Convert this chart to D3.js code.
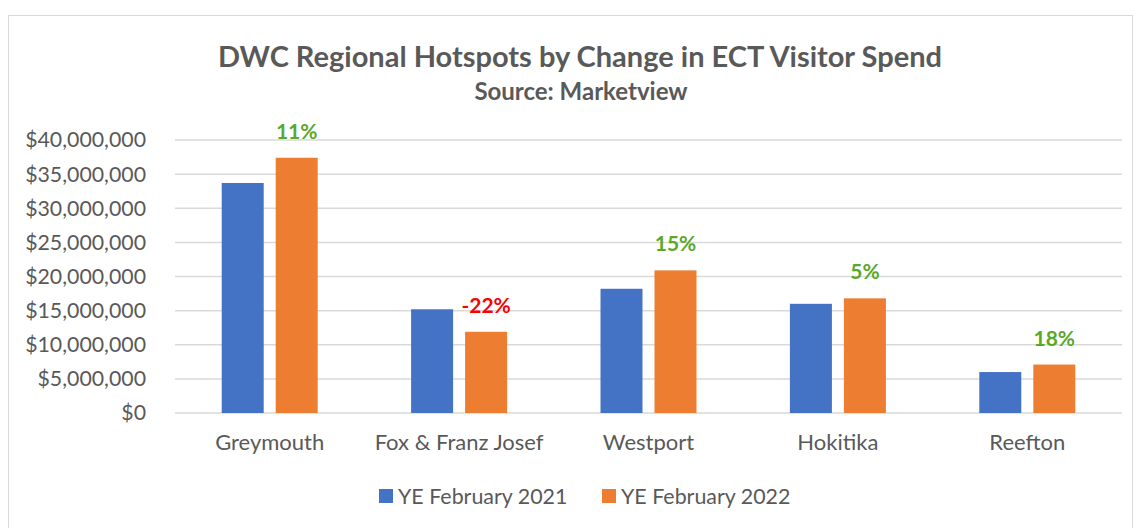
<!DOCTYPE html>
<html>
<head>
<meta charset="utf-8">
<script src="https://cdn.jsdelivr.net/npm/d3@7"></script>
<style>
  body { margin: 0; background: #fff; }
  svg text { font-family: Lato, "Open Sans", sans-serif; }
</style>
</head>
<body>
<svg id="chart"></svg>
<script>
// data
const regions = ["Greymouth", "Fox & Franz Josef", "Westport", "Hokitika", "Reefton"];
const spend2021 = [33700000, 15200000, 18200000, 16000000, 6000000];
const spend2022 = [37400000, 11900000, 20900000, 16800000, 7100000];
const changeLabels = ["11%", "-22%", "15%", "5%", "18%"];
const seriesNames = ["YE February 2021", "YE February 2022"];
const yTicks = [0, 5000000, 10000000, 15000000, 20000000, 25000000, 30000000, 35000000, 40000000];

const width = 1139;
const height = 528;
const colors = ["#4472C4", "#ED7D31"];

let svg = d3.select("#chart").attr("width", width).attr("height", height);

// chart frame
svg.append("rect")
  .attr("x", 8.5).attr("y", 15.5)
  .attr("width", 1124).attr("height", 520)
  .attr("fill", "#fff").attr("stroke", "#d9d9d9");

// title
svg.append("text")
  .attr("x", 580).attr("y", 67)
  .attr("text-anchor", "middle")
  .attr("font-size", 29).attr("font-weight", "bold")
  .attr("fill", "#595959")
  .text("DWC Regional Hotspots by Change in ECT Visitor Spend");
svg.append("text")
  .attr("x", 581).attr("y", 100)
  .attr("text-anchor", "middle")
  .attr("font-size", 24).attr("font-weight", "bold")
  .attr("fill", "#595959")
  .text("Source: Marketview");

// scales
let x = d3.scaleBand().domain(regions).range([175, 1122]);
let y = d3.scaleLinear().domain([0, 40000000]).range([413, 140]);

// gridlines
svg.append("g")
  .selectAll("line")
  .data(yTicks)
  .enter()
  .append("line")
  .attr("x1", 175).attr("x2", 1122)
  .attr("y1", (d) => y(d)).attr("y2", (d) => y(d))
  .attr("stroke", "#d9d9d9").attr("stroke-width", 1.5);

// y axis labels
let fmt = d3.format("$,");
svg.append("g")
  .selectAll("text")
  .data(yTicks)
  .enter()
  .append("text")
  .attr("x", 146)
  .attr("y", (d) => y(d))
  .attr("dy", "0.35em")
  .attr("text-anchor", "end")
  .attr("font-size", 21.3)
  .attr("fill", "#595959")
  .text((d) => fmt(d));

// x axis labels
svg.append("g")
  .selectAll("text")
  .data(regions)
  .enter()
  .append("text")
  .attr("x", (d) => x(d) + x.bandwidth() / 2)
  .attr("y", 450)
  .attr("text-anchor", "middle")
  .attr("font-size", 22)
  .attr("fill", "#595959")
  .text((d) => d);

// bars
const barW = 42;
const gap = 12;
let groups = svg.append("g")
  .selectAll("g")
  .data(regions)
  .enter()
  .append("g")
  .attr("transform", (d) => "translate(" + (x(d) + x.bandwidth() / 2) + ",0)");

groups.append("rect")
  .attr("x", -barW - gap / 2)
  .attr("y", (d, i) => y(spend2021[i]))
  .attr("width", barW)
  .attr("height", (d, i) => y(0) - y(spend2021[i]))
  .attr("fill", colors[0]);

groups.append("rect")
  .attr("x", gap / 2)
  .attr("y", (d, i) => y(spend2022[i]))
  .attr("width", barW)
  .attr("height", (d, i) => y(0) - y(spend2022[i]))
  .attr("fill", colors[1]);

// change labels
groups.append("text")
  .attr("x", gap / 2 + barW / 2)
  .attr("y", (d, i) => y(spend2022[i]) - 19)
  .attr("text-anchor", "middle")
  .attr("font-size", 21)
  .attr("font-weight", "bold")
  .attr("fill", (d, i) => (changeLabels[i].startsWith("-") ? "#FF0000" : "#5BA829"))
  .text((d, i) => changeLabels[i]);

// legend
const legendX = [379, 602];
let legend = svg.append("g")
  .selectAll("g")
  .data(seriesNames)
  .enter()
  .append("g")
  .attr("transform", (d, i) => "translate(" + legendX[i] + ",496)");
legend.append("rect")
  .attr("x", 0).attr("y", -7)
  .attr("width", 14).attr("height", 14)
  .attr("fill", (d, i) => colors[i]);
legend.append("text")
  .attr("x", 19).attr("y", 0)
  .attr("dy", "0.35em")
  .attr("font-size", 21.4)
  .attr("fill", "#595959")
  .text((d) => d);
</script>
</body>
</html>
